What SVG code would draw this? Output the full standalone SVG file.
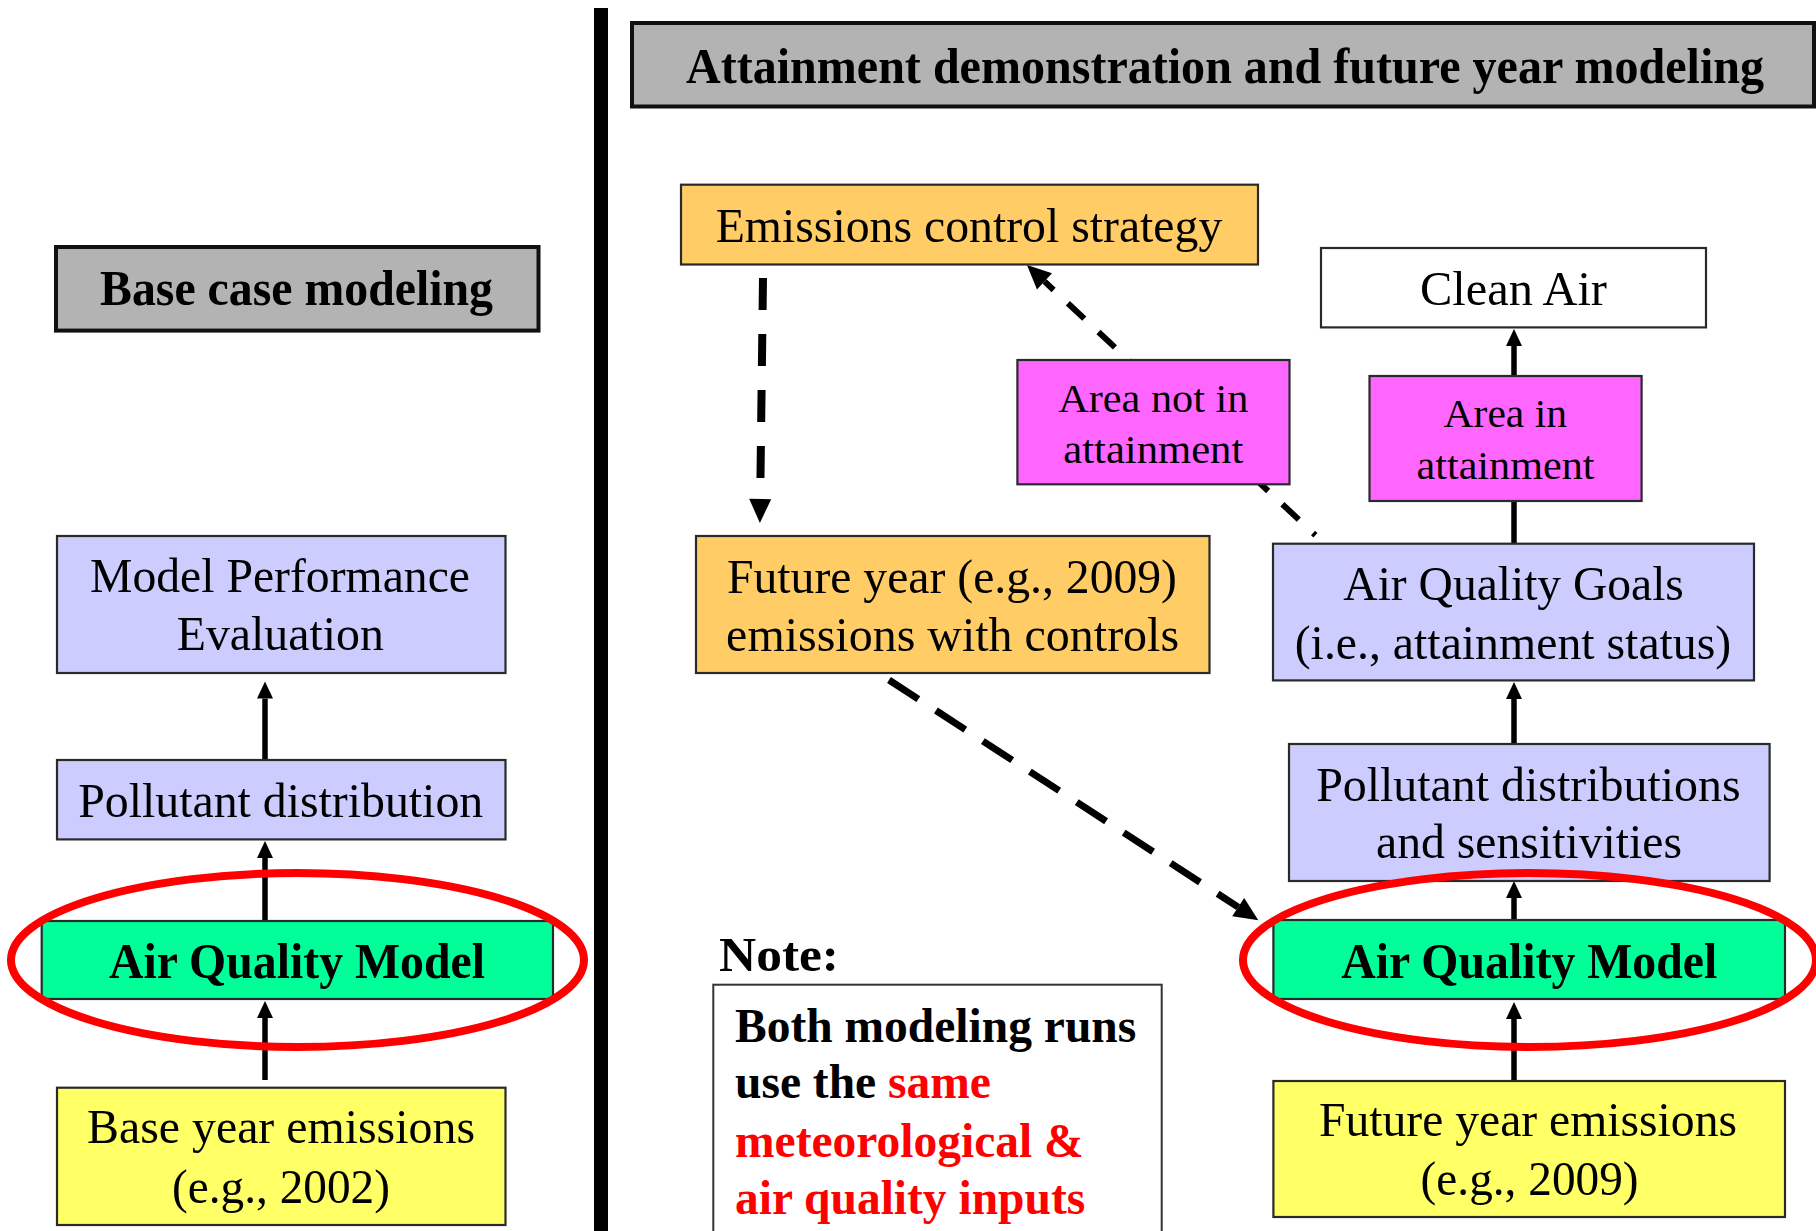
<svg xmlns="http://www.w3.org/2000/svg" width="1816" height="1231" viewBox="0 0 1816 1231">
<style>
  .box { stroke: #2a2a2a; stroke-width: 2.2; }
  .hdr { fill: #b3b3b3; stroke: #111; stroke-width: 4; }
  .lav { fill: #ccccff; }
  .org { fill: #ffcc66; }
  .mag { fill: #ff66ff; }
  .grn { fill: #00ff99; }
  .yel { fill: #ffff66; }
  .wht { fill: #ffffff; }
  .t { font-family: "Liberation Serif", "Times New Roman", serif; font-size: 49px; fill: #000; text-anchor: middle; }
  .ts { font-family: "Liberation Serif", "Times New Roman", serif; font-size: 41px; fill: #000; text-anchor: middle; }
  .tb { font-family: "Liberation Serif", "Times New Roman", serif; font-size: 50px; font-weight: bold; fill: #000; text-anchor: middle; }
  .note { font-family: "Liberation Serif", "Times New Roman", serif; font-size: 47.5px; font-weight: bold; fill: #000; }
  .red { fill: #ff0000; }
  .solid { stroke: #000; stroke-width: 5.5; fill: none; marker-end: url(#solidHead); }
  .plain { stroke: #000; stroke-width: 5.5; fill: none; }
  .dash { stroke: #000; fill: none; }
  .ring { fill: none; stroke: #ff0000; stroke-width: 8; }
</style>
<defs>
  <marker id="solidHead" markerUnits="userSpaceOnUse" markerWidth="18" markerHeight="16" refX="0" refY="8" orient="auto" overflow="visible">
    <path d="M0,0 L17,8 L0,16 z" fill="#000"/>
  </marker>
  <marker id="dashHead" markerUnits="userSpaceOnUse" markerWidth="24" markerHeight="22" refX="0" refY="11" orient="auto-start-reverse" overflow="visible">
    <path d="M0,0 L24,11 L0,22 z" fill="#000"/>
  </marker>
</defs>
<rect width="1816" height="1231" fill="#ffffff"/>
<rect id="divider" x="594" y="8" width="14" height="1230" fill="#000"/>

<g id="connectors">
  <path class="solid" d="M265,760 L265,698.6"/>
  <path class="solid" d="M265,921 L265,858"/>
  <path class="solid" d="M265,1080 L265,1018"/>
  <path class="solid" d="M1514,376 L1514,346"/>
  <path class="plain" d="M1514,501 L1514,543.7"/>
  <path class="solid" d="M1514,744 L1514,699"/>
  <path class="solid" d="M1514,920 L1514,898"/>
  <path class="solid" d="M1514,1081 L1514,1019"/>
  <path class="dash" stroke-width="8" stroke-dasharray="32 24" marker-end="url(#dashHead)" d="M763,278 L760.2,499"/>
  <path class="dash" stroke-width="7" stroke-dasharray="35 21" marker-end="url(#dashHead)" d="M889,680 L1238.2,907.1"/>
  <path class="dash" stroke-width="6" stroke-dasharray="22.5 19.5" stroke-dashoffset="10" marker-start="url(#dashHead)" d="M1044.5,281.4 L1315.4,535.2"/>
</g>

<g id="hdr-attainment">
  <rect class="hdr" x="632" y="23" width="1182" height="83.5"/>
  <text class="tb" x="1225" y="83" textLength="1078" lengthAdjust="spacingAndGlyphs">Attainment demonstration and future year modeling</text>
</g>
<g id="hdr-base">
  <rect class="hdr" x="56" y="247" width="482.5" height="83.6"/>
  <text class="tb" x="296.5" y="305" textLength="393" lengthAdjust="spacingAndGlyphs">Base case modeling</text>
</g>
<g id="mpe">
  <rect class="box lav" x="57" y="536" width="448.5" height="137"/>
  <text class="t" x="280" y="592" textLength="380" lengthAdjust="spacingAndGlyphs">Model Performance</text>
  <text class="t" x="280.3" y="650" textLength="207" lengthAdjust="spacingAndGlyphs">Evaluation</text>
</g>
<g id="pollutant-left">
  <rect class="box lav" x="57" y="760" width="448.5" height="79.4"/>
  <text class="t" x="280.7" y="817" textLength="405" lengthAdjust="spacingAndGlyphs">Pollutant distribution</text>
</g>
<g id="aqm-left">
  <rect class="box grn" x="41.7" y="921" width="511.3" height="78"/>
  <text class="tb" x="297" y="978" textLength="376" lengthAdjust="spacingAndGlyphs">Air Quality Model</text>
</g>
<g id="base-year">
  <rect class="box yel" x="57" y="1087.7" width="448.5" height="137.3" stroke-width="3"/>
  <text class="t" x="281" y="1143.4" textLength="388" lengthAdjust="spacingAndGlyphs">Base year emissions</text>
  <text class="t" x="281" y="1202.6" textLength="218" lengthAdjust="spacingAndGlyphs">(e.g., 2002)</text>
</g>
<g id="control-strategy">
  <rect class="box org" x="681" y="184.7" width="577" height="79.8"/>
  <text class="t" x="969" y="242" textLength="506.6" lengthAdjust="spacingAndGlyphs">Emissions control strategy</text>
</g>
<g id="future-controls">
  <rect class="box org" x="696" y="536" width="513.5" height="137"/>
  <text class="t" x="952" y="593" textLength="450" lengthAdjust="spacingAndGlyphs">Future year (e.g., 2009)</text>
  <text class="t" x="952.6" y="651" textLength="453" lengthAdjust="spacingAndGlyphs">emissions with controls</text>
</g>
<g id="area-not">
  <rect class="box mag" x="1017.4" y="360" width="272.1" height="124.3"/>
  <text class="ts" x="1153.3" y="411.7" textLength="190" lengthAdjust="spacingAndGlyphs">Area not in</text>
  <text class="ts" x="1153.3" y="462.7" textLength="180" lengthAdjust="spacingAndGlyphs">attainment</text>
</g>
<g id="clean-air">
  <rect class="box wht" x="1321" y="248" width="385" height="79.4"/>
  <text class="t" x="1513.5" y="304.5" textLength="187" lengthAdjust="spacingAndGlyphs">Clean Air</text>
</g>
<g id="area-in">
  <rect class="box mag" x="1369.5" y="376" width="272.1" height="125"/>
  <text class="ts" x="1505.3" y="427" textLength="123.4" lengthAdjust="spacingAndGlyphs">Area in</text>
  <text class="ts" x="1505.5" y="479" textLength="178" lengthAdjust="spacingAndGlyphs">attainment</text>
</g>
<g id="aq-goals">
  <rect class="box lav" x="1273" y="543.7" width="481" height="136.7"/>
  <text class="t" x="1513.6" y="600" textLength="340.5" lengthAdjust="spacingAndGlyphs">Air Quality Goals</text>
  <text class="t" x="1513" y="659" textLength="436.6" lengthAdjust="spacingAndGlyphs">(i.e., attainment status)</text>
</g>
<g id="pollutant-right">
  <rect class="box lav" x="1289" y="744" width="480.6" height="137"/>
  <text class="t" x="1528.4" y="801" textLength="424.5" lengthAdjust="spacingAndGlyphs">Pollutant distributions</text>
  <text class="t" x="1529" y="857.7" textLength="306" lengthAdjust="spacingAndGlyphs">and sensitivities</text>
</g>
<g id="aqm-right">
  <rect class="box grn" x="1273.4" y="920" width="511.6" height="79"/>
  <text class="tb" x="1529.3" y="978" textLength="376" lengthAdjust="spacingAndGlyphs">Air Quality Model</text>
</g>
<g id="future-year">
  <rect class="box yel" x="1273.4" y="1081" width="511.6" height="136" stroke-width="3"/>
  <text class="t" x="1528" y="1136" textLength="418" lengthAdjust="spacingAndGlyphs">Future year emissions</text>
  <text class="t" x="1529.6" y="1195" textLength="218" lengthAdjust="spacingAndGlyphs">(e.g., 2009)</text>
</g>
<g id="note">
  <text class="note" x="719" y="971" font-size="52" textLength="120" lengthAdjust="spacingAndGlyphs">Note:</text>
  <rect x="713.3" y="984.7" width="448.4" height="270" fill="#ffffff" stroke="#333" stroke-width="2"/>
  <text class="note" x="735" y="1041.7">Both modeling runs</text>
  <text class="note" x="735" y="1098.3">use the <tspan class="red">same</tspan></text>
  <text class="note red" x="735" y="1156.7">meteorological &amp;</text>
  <text class="note red" x="735" y="1214">air quality inputs</text>
</g>
<g id="highlights">
  <ellipse class="ring" cx="297.5" cy="960" rx="286.5" ry="87"/>
  <ellipse class="ring" cx="1529.5" cy="960" rx="286.5" ry="87"/>
</g>
</svg>
